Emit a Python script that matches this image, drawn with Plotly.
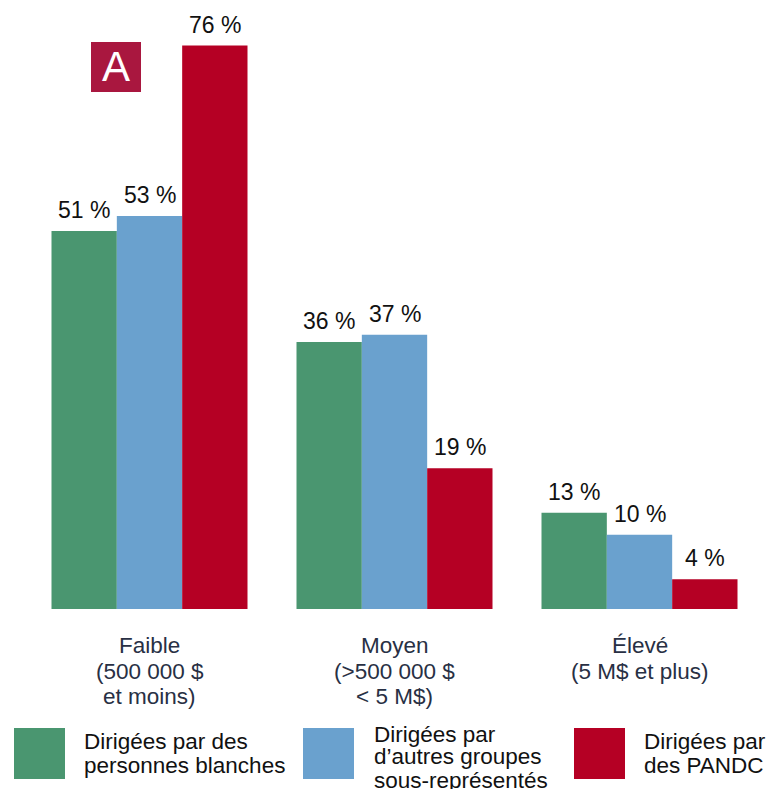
import plotly.graph_objects as go

# Revenue brackets (category labels, one list per line of text)
categories = ["Faible", "Moyen", "Élevé"]
category_lines = [
    ["Faible", "(500 000 $", "et moins)"],
    ["Moyen", "(>500 000 $", "< 5 M$)"],
    ["Élevé", "(5 M$ et plus)"],
]

# Share of organisations (%) per leadership group
series_names = [
    "Dirigées par des personnes blanches",
    "Dirigées par d’autres groupes sous-représentés",
    "Dirigées par des PANDC",
]
legend_lines = [
    ["Dirigées par des", "personnes blanches"],
    ["Dirigées par", "d’autres groupes", "sous-représentés"],
    ["Dirigées par", "des PANDC"],
]
white_led = [51, 36, 13]
other_led = [53, 37, 10]
pandc_led = [76, 19, 4]
series_values = [white_led, other_led, pandc_led]
colors = ["#4a9670", "#6aa1ce", "#b50024"]

FONT = "Liberation Sans, Arial, Helvetica, sans-serif"
W, H = 767, 789
M_L, M_R, M_T, M_B = 27, 5, 10, 180
PLOT_W = W - M_L - M_R
PLOT_H = H - M_T - M_B
Y_MAX = 80.8


def px_x(px):
    return (px - M_L) / PLOT_W


def px_y(py):
    return (H - M_B - py) / PLOT_H


fig = go.Figure()
for name, vals, col in zip(series_names, series_values, colors):
    fig.add_trace(go.Bar(
        x=categories, y=vals, name=name,
        marker=dict(color=col, line=dict(width=0)),
        showlegend=False, hoverinfo="skip",
    ))

annotations = []

# Value labels above each bar
n = len(series_values)
group_w = 0.8
for s, vals in enumerate(series_values):
    offset = -group_w / 2 + group_w / n * (s + 0.5)
    for i, v in enumerate(vals):
        annotations.append(dict(
            x=i + offset, y=v, xref="x", yref="y",
            text=f"{v} %", showarrow=False,
            xanchor="center", yanchor="bottom", yshift=6,
            font=dict(family=FONT, size=23, color="#111111"),
        ))

# Category labels under each group
cat_line_y = [645, 671, 696]
for i, lines in enumerate(category_lines):
    for j, line in enumerate(lines):
        annotations.append(dict(
            x=i, y=px_y(cat_line_y[j]), xref="x", yref="paper",
            text=line, showarrow=False,
            xanchor="center", yanchor="middle",
            font=dict(family=FONT, size=22.5, color="#283044"),
        ))

# Legend: swatches and text
shapes = []
swatch_x = [14, 303, 574]
text_x = [82, 372, 642]
line_centers = [[741.5, 765.5], [734, 757, 780], [741.5, 765.5]]
for k in range(n):
    shapes.append(dict(
        type="rect", xref="paper", yref="paper",
        x0=px_x(swatch_x[k]), x1=px_x(swatch_x[k] + 51),
        y0=px_y(779), y1=px_y(728),
        fillcolor=colors[k], line=dict(width=0), layer="above",
    ))
    for line, cy in zip(legend_lines[k], line_centers[k]):
        annotations.append(dict(
            x=px_x(text_x[k]), y=px_y(cy), xref="paper", yref="paper",
            text=line, showarrow=False,
            xanchor="left", yanchor="middle",
            font=dict(family=FONT, size=22.5, color="#111111"),
        ))

# Panel badge "A"
shapes.append(dict(
    type="rect", xref="paper", yref="paper",
    x0=px_x(91), x1=px_x(141), y0=px_y(92), y1=px_y(42),
    fillcolor="#a9173f", line=dict(width=0), layer="above",
))
annotations.append(dict(
    x=px_x(116), y=px_y(67), xref="paper", yref="paper",
    text="A", showarrow=False, xanchor="center", yanchor="middle",
    font=dict(family=FONT, size=42, color="#ffffff"),
))

fig.update_layout(
    width=W, height=H,
    margin=dict(l=M_L, r=M_R, t=M_T, b=M_B, pad=0),
    paper_bgcolor="white", plot_bgcolor="white",
    barmode="group", bargap=0.2, bargroupgap=0,
    xaxis=dict(range=[-0.5, 2.5], showticklabels=False, showgrid=False,
               zeroline=False, showline=False, ticks=""),
    yaxis=dict(range=[0, Y_MAX], showticklabels=False, showgrid=False,
               zeroline=False, showline=False, ticks=""),
    annotations=annotations, shapes=shapes,
    font=dict(family=FONT),
)

fig.write_html("out.html")
